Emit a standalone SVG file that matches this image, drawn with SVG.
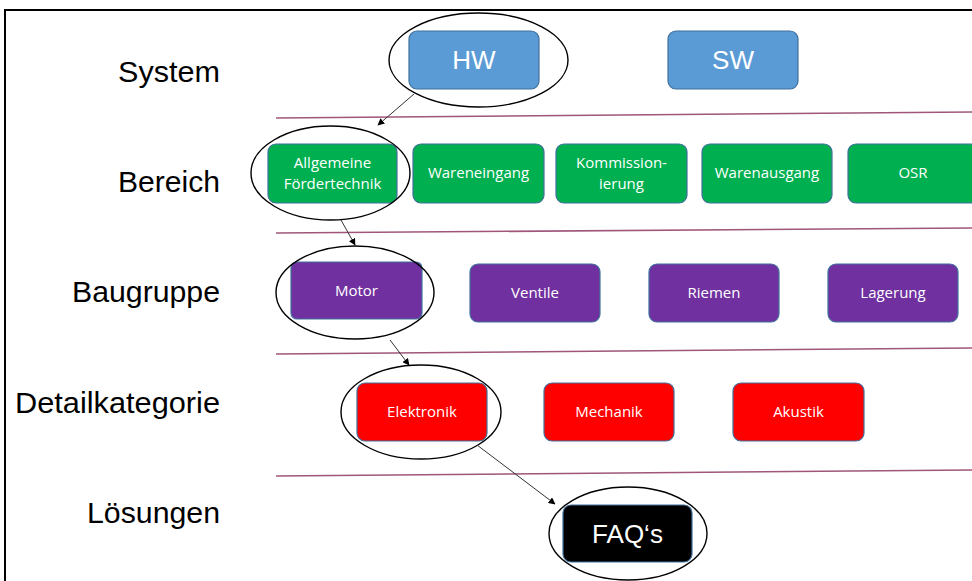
<svg xmlns="http://www.w3.org/2000/svg" width="972" height="581" viewBox="0 0 972 581">
  <style>
    .lbl { font-family: "Liberation Sans", Arial, sans-serif; font-size: 29px; fill: #000; text-anchor: end; }
    .box { stroke: #41719C; stroke-width: 1.2; }
    .bt { font-family: "Open Sans", "Liberation Sans", sans-serif; font-size: 15px; fill: #fff; text-anchor: middle; }
    .big { font-family: "Liberation Sans", Arial, sans-serif; font-size: 26px; fill: #fff; text-anchor: middle; }
    .ring { fill: none; stroke: #000; stroke-width: 1.4; }
    .sep { stroke: #A0567A; stroke-width: 1.6; }
    .conn { stroke: #333; stroke-width: 1; fill: none; marker-end: url(#ah); }
  </style>
  <defs>
    <marker id="ah" viewBox="0 0 10 10" refX="9" refY="5" markerWidth="7" markerHeight="7" orient="auto" markerUnits="userSpaceOnUse">
      <path d="M0,0 L10,5 L0,10 z" fill="#000"/>
    </marker>
  </defs>

  <rect x="0" y="0" width="972" height="581" fill="#fff"/>
  <!-- outer frame -->
  <rect x="5" y="10" width="1000" height="600" fill="none" stroke="#000" stroke-width="2"/>

  <!-- level labels -->
  <g id="labels">
    <text class="lbl" x="220" y="82" textLength="102" lengthAdjust="spacingAndGlyphs">System</text>
    <text class="lbl" x="220" y="192" textLength="102" lengthAdjust="spacingAndGlyphs">Bereich</text>
    <text class="lbl" x="220" y="302" textLength="148" lengthAdjust="spacingAndGlyphs">Baugruppe</text>
    <text class="lbl" x="220" y="413" textLength="205" lengthAdjust="spacingAndGlyphs">Detailkategorie</text>
    <text class="lbl" x="220" y="523" textLength="133" lengthAdjust="spacingAndGlyphs">Lösungen</text>
  </g>

  <!-- level separators -->
  <g id="separators">
    <line class="sep" x1="276" y1="118" x2="972" y2="112"/>
    <line class="sep" x1="276" y1="233" x2="972" y2="228"/>
    <line class="sep" x1="276" y1="354" x2="972" y2="348"/>
    <line class="sep" x1="276" y1="476" x2="972" y2="470"/>
  </g>

  <!-- System -->
  <g id="hw">
    <rect class="box" x="409" y="31" width="130" height="58" rx="8" fill="#5B9BD5"/>
    <text class="big" x="474" y="69">HW</text>
  </g>
  <g id="sw">
    <rect class="box" x="668" y="31" width="130" height="58" rx="8" fill="#5B9BD5"/>
    <text class="big" x="733" y="69">SW</text>
  </g>

  <!-- Bereich -->
  <g id="allgemeine">
    <rect class="box" x="268" y="144" width="129" height="59" rx="8" fill="#00B050"/>
    <text class="bt" x="332.5" y="168">Allgemeine</text>
    <text class="bt" x="332.5" y="189">Fördertechnik</text>
  </g>
  <g id="wareneingang">
    <rect class="box" x="413" y="144" width="131" height="59" rx="8" fill="#00B050"/>
    <text class="bt" x="478.5" y="178">Wareneingang</text>
  </g>
  <g id="kommissionierung">
    <rect class="box" x="556" y="144" width="131" height="59" rx="8" fill="#00B050"/>
    <text class="bt" x="621.5" y="168">Kommission-</text>
    <text class="bt" x="621.5" y="189">ierung</text>
  </g>
  <g id="warenausgang">
    <rect class="box" x="702" y="144" width="130" height="59" rx="8" fill="#00B050"/>
    <text class="bt" x="767" y="178">Warenausgang</text>
  </g>
  <g id="osr">
    <rect class="box" x="848" y="144" width="130" height="59" rx="8" fill="#00B050"/>
    <text class="bt" x="913" y="178">OSR</text>
  </g>

  <!-- Baugruppe -->
  <g id="motor">
    <rect class="box" x="291" y="262" width="131" height="57" rx="6" fill="#7030A0"/>
    <text class="bt" x="356.5" y="296">Motor</text>
  </g>
  <g id="ventile">
    <rect class="box" x="470" y="264" width="130" height="58" rx="8" fill="#7030A0"/>
    <text class="bt" x="535" y="298">Ventile</text>
  </g>
  <g id="riemen">
    <rect class="box" x="649" y="264" width="130" height="58" rx="8" fill="#7030A0"/>
    <text class="bt" x="714" y="298">Riemen</text>
  </g>
  <g id="lagerung">
    <rect class="box" x="828" y="264" width="130" height="58" rx="8" fill="#7030A0"/>
    <text class="bt" x="893" y="298">Lagerung</text>
  </g>

  <!-- Detailkategorie -->
  <g id="elektronik">
    <rect class="box" x="357" y="383" width="130" height="58" rx="8" fill="#FF0000"/>
    <text class="bt" x="422" y="417">Elektronik</text>
  </g>
  <g id="mechanik">
    <rect class="box" x="544" y="383" width="130" height="58" rx="8" fill="#FF0000"/>
    <text class="bt" x="609" y="417">Mechanik</text>
  </g>
  <g id="akustik">
    <rect class="box" x="733" y="383" width="131" height="58" rx="8" fill="#FF0000"/>
    <text class="bt" x="798.5" y="417">Akustik</text>
  </g>

  <!-- Lösungen -->
  <g id="faq">
    <rect class="box" x="563" y="505" width="129" height="57" rx="8" fill="#000"/>
    <text class="big" x="627.5" y="543">FAQ‘s</text>
  </g>

  <!-- highlight rings along the selected path -->
  <g id="rings">
    <ellipse class="ring" cx="478.5" cy="60" rx="89.5" ry="47"/>
    <ellipse class="ring" cx="330.5" cy="173" rx="79.5" ry="47"/>
    <ellipse class="ring" cx="355" cy="292.5" rx="79" ry="46.5"/>
    <ellipse class="ring" cx="421" cy="412" rx="80" ry="47"/>
    <ellipse class="ring" cx="628" cy="533.5" rx="79" ry="46.5"/>
  </g>

  <!-- connectors -->
  <g id="connectors">
    <line class="conn" x1="414" y1="94" x2="378" y2="125"/>
    <line class="conn" x1="341" y1="220" x2="355" y2="245"/>
    <line class="conn" x1="390" y1="340" x2="409" y2="365"/>
    <line class="conn" x1="477" y1="445" x2="555" y2="504"/>
  </g>
</svg>
